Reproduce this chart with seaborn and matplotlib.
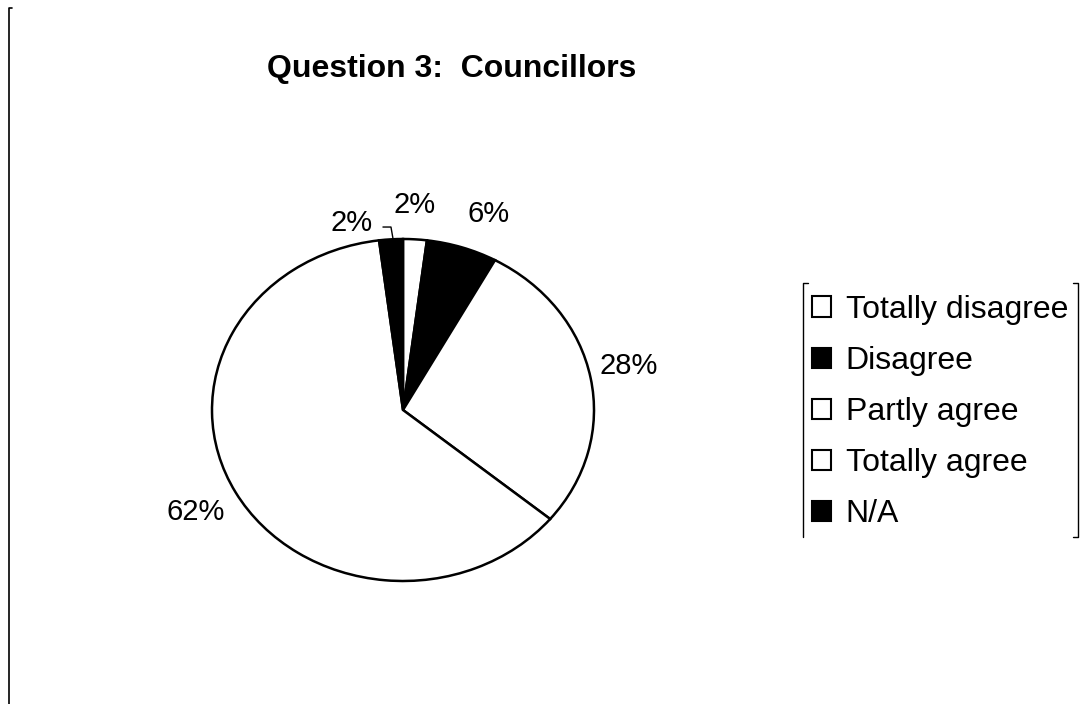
import matplotlib
matplotlib.use("Agg")
import matplotlib.pyplot as plt
import seaborn as sns
from matplotlib.patches import Patch
from matplotlib.lines import Line2D

categories = ["Totally disagree", "Disagree", "Partly agree", "Totally agree", "N/A"]
values = [2, 6, 28, 62, 2]
pct_labels = ["2%", "6%", "28%", "62%", "2%"]
colors = ["white", "black", "white", "white", "black"]

sns.set_theme(style="white")
plt.rcParams["font.family"] = ["Liberation Sans", "DejaVu Sans"]

W, H = 1085, 704
fig = plt.figure(figsize=(W / 100, H / 100), dpi=100)
fig.patch.set_facecolor("white")

# pie centre (403, 410) px, radii 191 x 171 px
cx, cy, rx, ry = 403, 410, 191, 171
ax = fig.add_axes([(cx - 1.5 * rx) / W, (H - cy - 1.5 * ry) / H, 3 * rx / W, 3 * ry / H])
wedges, _ = ax.pie(values, colors=colors, startangle=90, counterclock=False,
                   wedgeprops=dict(edgecolor="black", linewidth=1.8))
ax.set_aspect("auto")
ax.set_xlim(-1.5, 1.5)
ax.set_ylim(-1.5, 1.5)
ax.axis("off")

# label positions (data coords)
label_xy = [(0.058, 1.199), (0.450, 1.146), (1.183, 0.257), (-1.084, -0.596), (-0.267, 1.094)]
for (x, y), t in zip(label_xy, pct_labels):
    ax.text(x, y, t, ha="center", va="center", fontsize=21, color="black")
# leader line for N/A
ax.plot([-0.105, -0.063, -0.052], [1.070, 1.070, 1.0], color="black", lw=1.0, clip_on=False)

fig.text(452 / W, 1 - 69 / H, "Question 3:  Councillors", ha="center", va="center",
         fontsize=23, fontweight="bold", color="black")

handles = [Patch(facecolor=c, edgecolor="black", linewidth=1.5) for c in colors]
leg = fig.legend(handles, categories, loc="center left",
                 bbox_to_anchor=(812 / W, 1 - 412 / H), frameon=False,
                 fontsize=23, handlelength=0.6, handleheight=0.6,
                 handletextpad=0.45, labelspacing=0.66, borderpad=0, borderaxespad=0,
                 labelcolor="black")

# legend bracket frame
def px(x, y):
    return (x / W, 1 - y / H)

L, R, T, B = 803, 1078, 283, 537
for seg in [[(L + 5, T), (L, T), (L, B)], [(R - 5, T), (R, T), (R, B), (R - 5, B)]]:
    xs = [px(*p)[0] for p in seg]
    ys = [px(*p)[1] for p in seg]
    fig.add_artist(Line2D(xs, ys, color="black", lw=1.0))

# left chart-area border
fig.add_artist(Line2D([12 / W, 9 / W, 9 / W], [1 - 8 / H, 1 - 8 / H, 0], color="black", lw=1.2))

fig.savefig("out.png", dpi=100, facecolor="white")
